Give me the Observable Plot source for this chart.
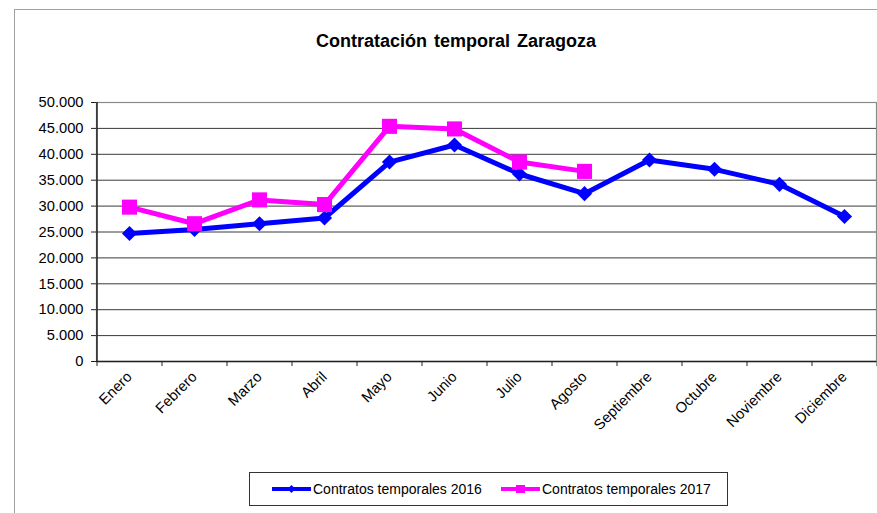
<!DOCTYPE html>
<html>
<head>
<meta charset="utf-8">
<script src="https://cdn.jsdelivr.net/npm/d3@7"></script>
<script src="https://cdn.jsdelivr.net/npm/@observablehq/plot@0.6"></script>
<style>
  html, body { margin: 0; padding: 0; background: #fff; }
  body { width: 877px; height: 513px; overflow: hidden; position: relative; font-family: "Liberation Sans", Arial, sans-serif; }
  #outer { position: absolute; left: 14px; top: 9px; width: 950px; height: 600px; border: 1px solid #a0a0a0; box-sizing: border-box; }
  #chart { position: absolute; left: 0; top: 0; }
  #title { position: absolute; left: 14px; width: 884px; top: 31px; text-align: center; font-weight: bold; font-size: 18px; word-spacing: 2px; color: #000; }
  #legend { position: absolute; left: 249px; top: 472px; width: 479px; height: 34px; border: 1px solid #333; box-sizing: border-box; font-size: 14px; color: #000; }
  #legend .item { position: absolute; top: 0; height: 32px; display: flex; align-items: center; }
  #legend svg { display: block; margin-right: 1px; }
</style>
</head>
<body>
<div id="outer"></div>
<div id="chart"></div>
<div id="title">Contratación temporal Zaragoza</div>
<div id="legend">
  <div class="item" style="left:21px">
    <svg width="41" height="14"><line x1="1" y1="7" x2="40" y2="7" stroke="#0000ff" stroke-width="4"/><path d="M20.5,3 L24.5,7 L20.5,11 L16.5,7Z" fill="#0000ff"/></svg>
    <span>Contratos temporales 2016</span>
  </div>
  <div class="item" style="left:250px">
    <svg width="41" height="14"><line x1="1" y1="7" x2="40" y2="7" stroke="#ff00ff" stroke-width="4"/><rect x="16" y="3" width="9" height="8" fill="#ff00ff"/></svg>
    <span>Contratos temporales 2017</span>
  </div>
</div>
<script>
const months = ["Enero","Febrero","Marzo","Abril","Mayo","Junio","Julio","Agosto","Septiembre","Octubre","Noviembre","Diciembre"];
const values2016 = [24700, 25500, 26600, 27700, 38500, 41800, 36200, 32400, 38900, 37100, 34200, 28000];
const months2017 = ["Enero","Febrero","Marzo","Abril","Mayo","Junio","Julio","Agosto"];
const values2017 = [29800, 26600, 31200, 30300, 45400, 44900, 38500, 36700];
const yTicks = [0, 5000, 10000, 15000, 20000, 25000, 30000, 35000, 40000, 45000, 50000];
const seriesNames = ["Contratos temporales 2016", "Contratos temporales 2017"];

const data2016 = months.map((m, i) => ({month: m, value: values2016[i]}));
const data2017 = months2017.map((m, i) => ({month: m, value: values2017[i]}));

const es = d3.formatLocale({decimal: ",", thousands: ".", grouping: [3], currency: ["", " €"]});
const fmt = es.format(",");

const W = 877, H = 513;
const mL = 96, mR = 1, mT = 102, mB = 152;
const step = (W - mL - mR) / months.length;

const chart = Plot.plot({
  width: W,
  height: H,
  marginLeft: mL,
  marginRight: mR,
  marginTop: mT,
  marginBottom: mB,
  style: {fontFamily: "Liberation Sans, Arial, sans-serif", fontSize: "14.7px", color: "#000", background: "transparent"},
  x: {type: "point", domain: months, padding: 0.5},
  y: {domain: [0, 50000], ticks: yTicks},
  marks: [
    Plot.gridY(yTicks, {stroke: "#3a3a3a", strokeOpacity: 1, strokeWidth: 1}),
    Plot.frame({stroke: "#8a8a8a", strokeWidth: 1.2}),
    Plot.ruleX([months[0]], {dx: -step / 2, stroke: "#222", strokeWidth: 1.5}),
    Plot.ruleY([0], {stroke: "#222", strokeWidth: 1.5}),
    Plot.axisY(yTicks, {tickSize: 5, tickPadding: 8, tickFormat: fmt, stroke: "#222", fontSize: 14.7, label: null}),
    Plot.axisX(months, {tickSize: 5, dx: -step / 2, text: null, stroke: "#222", label: null}),
    Plot.axisX([months[months.length - 1]], {tickSize: 5, dx: step / 2, text: null, stroke: "#222", label: null}),
    Plot.axisX(months, {tickSize: 0, tickPadding: 13, tickRotate: -45, fontSize: 14.7, label: null}),
    Plot.line(data2016, {x: "month", y: "value", stroke: "#0000ff", strokeWidth: 5}),
    Plot.dot(data2016, {x: "month", y: "value", symbol: "diamond2", r: 6.8, fill: "#0000ff", stroke: null}),
    Plot.line(data2017, {x: "month", y: "value", stroke: "#ff00ff", strokeWidth: 5}),
    Plot.dot(data2017, {x: "month", y: "value", symbol: "square", r: 8.5, fill: "#ff00ff", stroke: null})
  ]
});
document.getElementById("chart").appendChild(chart);
</script>
</body>
</html>
